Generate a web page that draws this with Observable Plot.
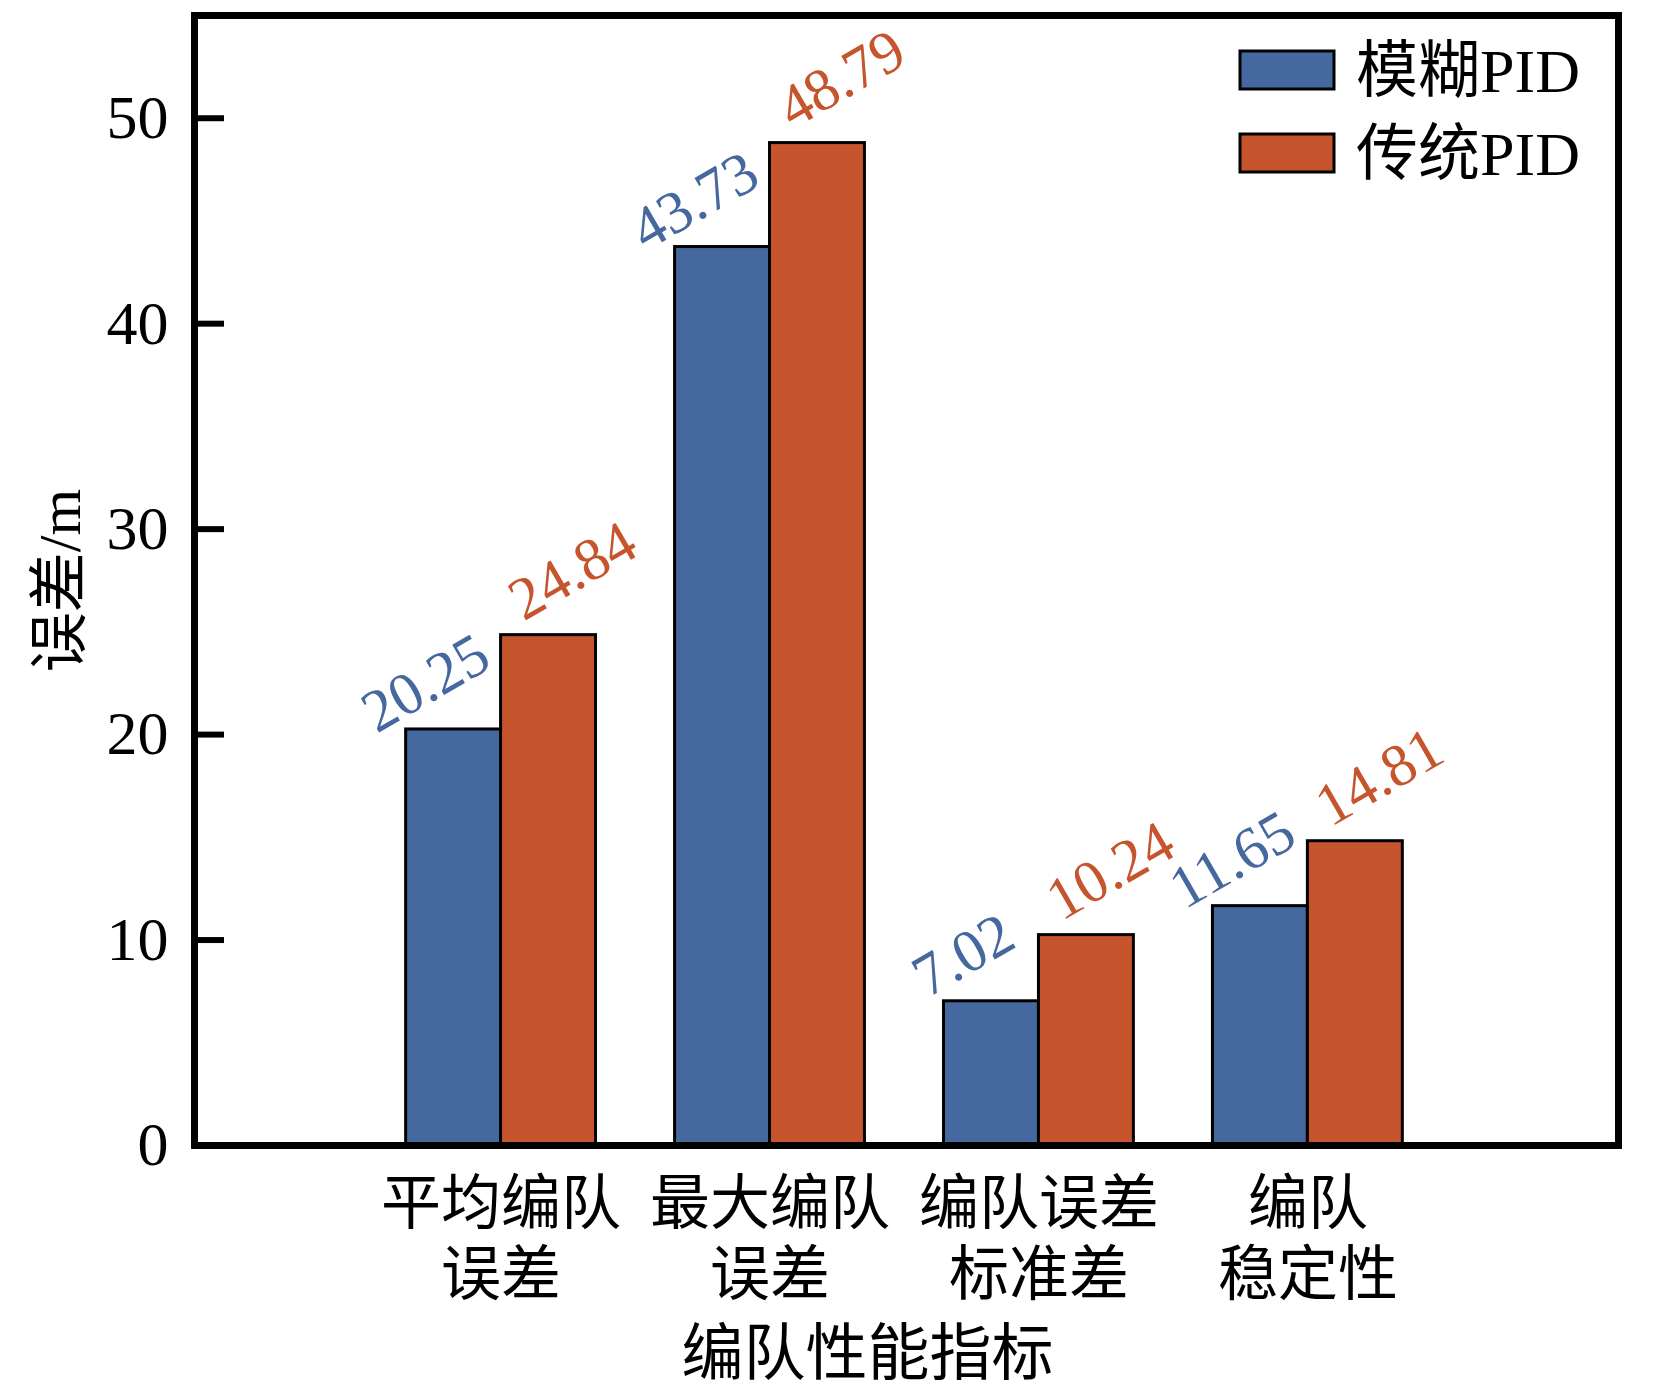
<!DOCTYPE html>
<html><head><meta charset="utf-8">
<script src="https://cdn.jsdelivr.net/npm/d3@7"></script>
<script src="https://cdn.jsdelivr.net/npm/@observablehq/plot@0.6"></script>
<style>html,body{margin:0;padding:0;background:#fff} svg{display:block}</style>
</head><body><div id="chart"></div>
<script>
// ---- data ----
const categories = ["平均编队\n误差", "最大编队\n误差", "编队误差\n标准差", "编队\n稳定性"];
const series = ["模糊PID", "传统PID"];
const fuzzyPID = [20.25, 43.73, 7.02, 11.65];
const classicPID = [24.84, 48.79, 10.24, 14.81];
const yTicks = [0, 10, 20, 30, 40, 50];
const yLabel = "误差/m";
const xLabel = "编队性能指标";
const colors = ["#45689E", "#C6552D"];

// ---- layout ----
const W = 1654, H = 1392;
const mL = 194, mR = 36, mT = 15, mB = 247;
const barW = 0.353;
const font = '"Liberation Serif","Times New Roman","Noto Sans CJK SC",serif';

const rows = [];
categories.forEach((c, i) => {
  [fuzzyPID, classicPID].forEach((vals, s) => rows.push({i, pos: i + 1, s, name: series[s], value: vals[i]}));
});
const tickPositions = categories.map((c, i) => i + 1);

const plot = Plot.plot({
  width: W, height: H,
  marginTop: mT, marginRight: mR, marginBottom: mB, marginLeft: mL,
  style: {fontFamily: font, background: "white", color: "black", overflow: "visible"},
  x: {type: "linear", domain: [-0.14, 5.155]},
  y: {domain: [0, 55]},
  color: {domain: series, range: colors},
  marks: [
    Plot.rectY(rows, {
      x1: d => d.s === 0 ? d.pos - barW : d.pos,
      x2: d => d.s === 0 ? d.pos : d.pos + barW,
      y1: 0, y2: "value", fill: "name", stroke: "black", strokeWidth: 3
    }),
    Plot.text(rows.filter(d => d.s === 0), {
      x: d => d.pos - barW / 2, y: "value", text: d => d.value.toFixed(2),
      fill: colors[0], fontSize: 60, rotate: -30, dx: -28, dy: -46,
      textAnchor: "middle", lineAnchor: "middle"
    }),
    Plot.text(rows.filter(d => d.s === 1), {
      x: d => d.pos + barW / 2, y: "value", text: d => d.value.toFixed(2),
      fill: colors[1], fontSize: 60, rotate: -30, dx: 24, dy: -64,
      textAnchor: "middle", lineAnchor: "middle"
    }),
    Plot.axisY({ticks: yTicks, tickSize: -30, tickPadding: 56, strokeWidth: 6, fontSize: 62, label: null, tickFormat: d => String(d)}),
    Plot.axisX({ticks: tickPositions, tickFormat: d => categories[d - 1], tickSize: 0, tickPadding: 28, fontSize: 60, lineHeight: 1.18, label: null}),
    Plot.text([yLabel], {frameAnchor: "left", dx: -134, rotate: -90, fontSize: 60, textAnchor: "middle", lineAnchor: "middle", text: d => d}),
    Plot.text([xLabel], {frameAnchor: "bottom", dx: -39, dy: 210, fontSize: 62, textAnchor: "middle", lineAnchor: "middle", text: d => d}),
    Plot.frame({stroke: "black", strokeWidth: 7})
  ]
});

// legend inside the frame, top right
const svg = d3.select(plot);
const xr = W - mR;
const lg = svg.append("g").attr("font-family", font).attr("font-size", 62).attr("text-anchor", "start");
series.forEach((s, k) => {
  const cy = mT + 55 + k * 83;
  lg.append("rect").attr("x", xr - 378).attr("y", cy - 19).attr("width", 94).attr("height", 38)
    .attr("fill", colors[k]).attr("stroke", "black").attr("stroke-width", 3);
  lg.append("text").attr("x", xr - 262).attr("y", cy).attr("dy", "0.35em").attr("fill", "black").text(s);
});

document.getElementById("chart").appendChild(plot);
</script>
</body></html>
